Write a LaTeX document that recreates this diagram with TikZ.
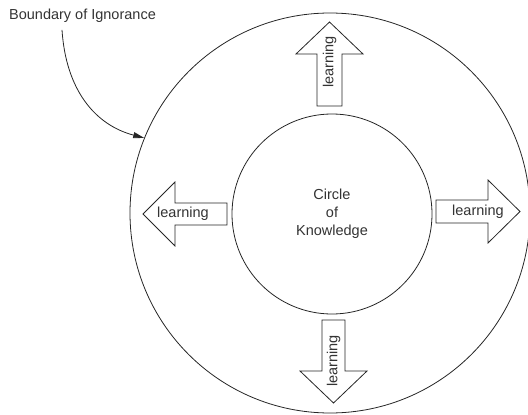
\documentclass[tikz,border=0pt]{standalone}
\usepackage{fontspec}
\setmainfont{Liberation Sans}
\usetikzlibrary{arrows.meta}
\begin{document}
\begin{tikzpicture}[x=1pt,y=-1pt,
  ring/.style={draw=black!85,line width=0.8pt,circle,inner sep=0pt},
  arrowshape/.style={draw=black!85,line width=0.8pt,fill=white,line join=miter},
  txt/.style={text=black!80,font=\fontsize{14.5}{18}\selectfont,inner sep=0pt},
  callout/.style={draw=black!85,line width=0.8pt,-{Triangle[length=11pt,width=6pt]}}]
\useasboundingbox (0,0) rectangle (528,415);
\node[ring,minimum size=400pt] (outer) at (330,213) {};
\node[ring,minimum size=200pt] (inner) at (332,214) {};
\node[txt,align=center] (cok) at (332,214) {Circle\\of\\Knowledge};
% up arrow
\draw[arrowshape] (329.5,22) -- (363,54) -- (342,54) -- (342,106) -- (317,106) -- (317,54) -- (296,54) -- cycle;
\node[txt,rotate=90] (lu) at (329.5,62) {learning};
% down arrow
\draw[arrowshape] (333.5,403) -- (367,371) -- (345,371) -- (345,320) -- (322,320) -- (322,371) -- (300,371) -- cycle;
\node[txt,rotate=90] (ld) at (333.5,361) {learning};
% left arrow
\draw[arrowshape] (143,214) -- (175,182) -- (175,203) -- (227,203) -- (227,225) -- (175,225) -- (175,246) -- cycle;
\node[txt] (ll) at (183,214) {learning};
% right arrow
\draw[arrowshape] (520,211.5) -- (488,180) -- (488,200) -- (436,200) -- (436,223) -- (488,223) -- (488,243) -- cycle;
\node[txt] (lr) at (478,211.5) {learning};
% boundary label
\node[txt] (bnd) at (82.5,16) {Boundary of Ignorance};
\draw[callout] ([xshift=-20.5pt,yshift=-7pt]bnd.south) .. controls (66,90) and (95,125) .. (outer.158);
\end{tikzpicture}
\end{document}
